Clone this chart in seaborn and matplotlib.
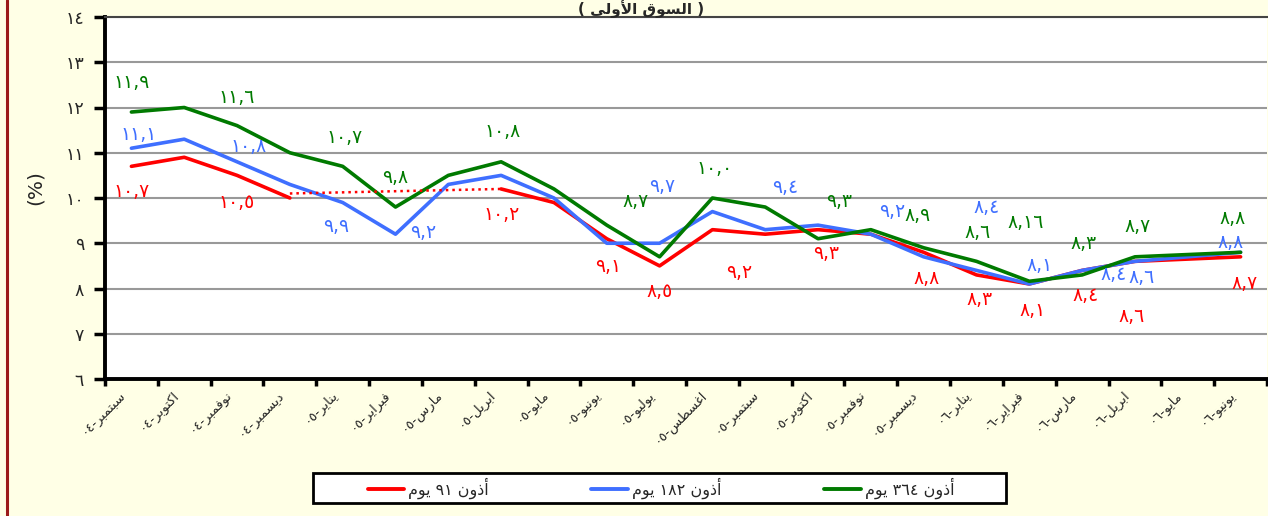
import re
import numpy as np
import pandas as pd
import seaborn as sns
import matplotlib
matplotlib.use('Agg')
import matplotlib.pyplot as plt
import matplotlib.transforms as mtrans
from matplotlib.lines import Line2D
from matplotlib.patches import Rectangle

# ---- data ----
months = ['سبتمبر', 'اكتوبر', 'نوفمبر', 'ديسمبر',
          'يناير', 'فبراير', 'مارس', 'ابريل', 'مايو', 'يونيو',
          'يوليو', 'اغسطس', 'سبتمبر', 'اكتوبر', 'نوفمبر', 'ديسمبر',
          'يناير', 'فبراير', 'مارس', 'ابريل', 'مايو', 'يونيو']
years = ['٠٤'] * 4 + ['٠٥'] * 12 + ['٠٦'] * 6

series_names = ['أذون ٩١ يوم', 'أذون ١٨٢ يوم', 'أذون ٣٦٤ يوم']
rate_91 = [10.7, 10.9, 10.5, 10.0, np.nan, np.nan, np.nan, 10.2, 9.9, 9.1, 8.5,
           9.3, 9.2, 9.3, 9.2, 8.8, 8.3, 8.1, 8.4, 8.6, 8.65, 8.7]
rate_182 = [11.1, 11.3, 10.8, 10.3, 9.9, 9.2, 10.3, 10.5, 10.0, 9.0, 9.0,
            9.7, 9.3, 9.4, 9.2, 8.7, 8.4, 8.1, 8.4, 8.6, 8.7, 8.8]
rate_364 = [11.9, 12.0, 11.6, 11.0, 10.7, 9.8, 10.5, 10.8, 10.2, 9.4, 8.7,
            10.0, 9.8, 9.1, 9.3, 8.9, 8.6, 8.16, 8.3, 8.7, 8.75, 8.8]

# dotted link drawn over the missing 91-day months
gap_idx = [3, 7]
gap_vals = [10.1, 10.2]

title = '( السوق الأولى )'
y_ticks = [6, 7, 8, 9, 10, 11, 12, 13, 14]

# ---- minimal arabic shaping (matplotlib has no complex text layout) ----
FORMS = {
    'ا': ('\uFE8D', '\uFE8E', None, None),
    'أ': ('\uFE83', '\uFE84', None, None),
    'ب': ('\uFE8F', '\uFE90', '\uFE91', '\uFE92'),
    'ت': ('\uFE95', '\uFE96', '\uFE97', '\uFE98'),
    'د': ('\uFEA9', '\uFEAA', None, None),
    'ذ': ('\uFEAB', '\uFEAC', None, None),
    'ر': ('\uFEAD', '\uFEAE', None, None),
    'س': ('\uFEB1', '\uFEB2', '\uFEB3', '\uFEB4'),
    'ط': ('\uFEC1', '\uFEC2', '\uFEC3', '\uFEC4'),
    'غ': ('\uFECD', '\uFECE', '\uFECF', '\uFED0'),
    'ف': ('\uFED1', '\uFED2', '\uFED3', '\uFED4'),
    'ق': ('\uFED5', '\uFED6', '\uFED7', '\uFED8'),
    'ك': ('\uFED9', '\uFEDA', '\uFEDB', '\uFEDC'),
    'ل': ('\uFEDD', '\uFEDE', '\uFEDF', '\uFEE0'),
    'م': ('\uFEE1', '\uFEE2', '\uFEE3', '\uFEE4'),
    'ن': ('\uFEE5', '\uFEE6', '\uFEE7', '\uFEE8'),
    'و': ('\uFEED', '\uFEEE', None, None),
    'ى': ('\uFEEF', '\uFEF0', None, None),
    'ي': ('\uFEF1', '\uFEF2', '\uFEF3', '\uFEF4'),
}
LAM_ALEF = {'ا': ('\uFEFB', '\uFEFC'), 'أ': ('\uFEF7', '\uFEF8')}
MIRROR = {'(': ')', ')': '('}


def is_letter(c):
    return isinstance(c, tuple) or c in FORMS


def links_next(c):
    return not isinstance(c, tuple) and c in FORMS and FORMS[c][2] is not None


def shape(text):
    chars, i = [], 0
    while i < len(text):
        if text[i] == 'ل' and i + 1 < len(text) and text[i + 1] in LAM_ALEF:
            chars.append(('LA', text[i + 1]))
            i += 2
        else:
            chars.append(text[i])
            i += 1
    out = []
    for k, c in enumerate(chars):
        prev = chars[k - 1] if k > 0 else None
        nxt = chars[k + 1] if k + 1 < len(chars) else None
        jp = prev is not None and links_next(prev)
        if isinstance(c, tuple):
            out.append(LAM_ALEF[c[1]][1 if jp else 0])
            continue
        if c not in FORMS:
            out.append(c)
            continue
        jn = links_next(c) and nxt is not None and is_letter(nxt)
        f = FORMS[c]
        out.append(f[3] if (jp and jn) else f[1] if jp else f[2] if jn else f[0])
    return ''.join(out)


def rtl(text):
    runs = re.findall(r'[0-9\u0660-\u0669]+|.', shape(text))
    return ''.join(MIRROR.get(r, r) for r in reversed(runs))


DIGITS = str.maketrans('0123456789.', '٠١٢٣٤٥٦٧٨٩,')


def ar_num(v):
    s = f'{v:.2f}'.rstrip('0')
    if s.endswith('.'):
        s += '0'
    return s.translate(DIGITS)


# ---- long table for seaborn ----
rows = []
for name, vals in zip(series_names, [rate_91, rate_182, rate_364]):
    seg = 0
    for i, v in enumerate(vals):
        if np.isnan(v):
            seg = 1
            continue
        rows.append({'idx': i, 'rate': v, 'series': name, 'seg': seg})
df = pd.DataFrame(rows)

colors = ['#FF0000', '#3F6FFF', '#007A00']
palette = dict(zip(series_names, colors))

sns.set_style('white')
plt.rcParams['font.family'] = ['DejaVu Sans']

BG = '#FFFFE6'
fig = plt.figure(figsize=(12.68, 5.16), dpi=100, facecolor=BG)
ax = fig.add_axes([105 / 1268, 137 / 516, 1162 / 1268, 362 / 516])
ax.set_facecolor('white')

sns.lineplot(data=df, x='idx', y='rate', hue='series', units='seg',
             estimator=None, palette=palette, linewidth=2.6, sort=False,
             legend=False, ax=ax)
ax.plot(gap_idx, gap_vals, color='#FF0000', linestyle=(0, (1, 1.6)), linewidth=1.8)

# data labels: (index, dx, dy) in pixels
label_pos = {
    series_names[0]: [(0, 0, -25), (2, 0, -27), (7, 0, -26), (9, 1, -28),
                      (10, 0, -26), (12, -26, -38), (13, 8, -24), (15, 3, -26),
                      (16, 3, -25), (17, 3, -27), (18, 3, -25), (19, -3, -55),
                      (21, 4, -27)],
    series_names[1]: [(0, 7, 14), (2, 12, 15), (4, -7, -24), (5, 28, 2),
                      (11, -50, 25), (13, -33, 38), (14, 21, 23), (16, 10, 63),
                      (17, 10, 18), (18, 31, -4), (19, 7, -16), (21, -10, 10)],
    series_names[2]: [(0, 0, 30), (2, 0, 28), (4, 2, 29), (5, 0, 30), (7, 1, 30),
                      (10, -24, 55), (11, 2, 30), (14, -32, 28), (15, -6, 32),
                      (16, 1, 29), (17, -4, 59), (18, 1, 31), (19, 3, 30),
                      (21, -8, 34)],
}
for name, vals in zip(series_names, [rate_91, rate_182, rate_364]):
    for i, dx, dy in label_pos[name]:
        ax.annotate(ar_num(vals[i]), (i, vals[i]), xytext=(dx, dy),
                    textcoords='offset pixels', ha='center', va='center',
                    color=palette[name], fontsize=13.5, zorder=5,
                    annotation_clip=False)

# axes styling
ax.set_xlim(-0.5, len(months) - 0.5)
ax.set_ylim(6, 14)
ax.set_yticks(y_ticks)
ax.set_yticklabels([str(v).translate(DIGITS) for v in y_ticks], fontsize=12.5)
ax.yaxis.grid(True, color='#999999', linewidth=1.5)
ax.xaxis.grid(False)
ax.set_axisbelow(True)
ax.set_xlabel('')
ax.set_ylabel('')

ax.set_xticks(range(len(months)))
ax.set_xticklabels([rtl(m + '-' + y) for m, y in zip(months, years)],
                   rotation=45, ha='right', va='center',
                   rotation_mode='anchor', fontsize=9.5)
ax.set_xticks(np.arange(-0.5, len(months), 1.0), minor=True)
ax.tick_params(axis='x', which='major', length=0, pad=10)
ax.tick_params(axis='x', which='minor', length=5, width=2.5, color='black',
               direction='out', bottom=True)
ax.tick_params(axis='y', length=8, width=2.5, color='black', direction='out',
               pad=7, left=True)
shift = mtrans.ScaledTranslation(-8 / 100, 0, fig.dpi_scale_trans)
for lab in ax.get_xticklabels():
    lab.set_transform(lab.get_transform() + shift)

for side in ['left', 'bottom']:
    ax.spines[side].set_color('black')
    ax.spines[side].set_linewidth(2.8)
ax.spines['top'].set_color('#444444')
ax.spines['top'].set_linewidth(1.5)
ax.spines['right'].set_visible(False)

# texts around the plot
fig.text(35 / 1268, 1 - 188 / 516, '(%)', rotation=90, fontsize=14.5,
         ha='center', va='center')
fig.text(641 / 1268, 1.0, rtl(title), fontsize=11, fontweight='bold',
         ha='center', va='top')

# legend with a separate box
fig.add_artist(Rectangle((313 / 1268, 1 - 503 / 516), 693 / 1268, 30 / 516,
                         transform=fig.transFigure, facecolor='white',
                         edgecolor='black', linewidth=2, zorder=1))
handles = [Line2D([], [], color=c, linewidth=2.8) for c in colors]
leg = fig.legend(handles, [rtl(n) for n in series_names], loc='center',
                 bbox_to_anchor=(661 / 1268, 1 - 488 / 516), ncol=3,
                 frameon=False, handlelength=2.3, handletextpad=0.25,
                 columnspacing=6.4, fontsize=11.5)
leg.set_zorder(2)

# chart-area border on the left
fig.add_artist(Line2D([6.5 / 1268] * 2, [0, 1], transform=fig.transFigure,
                      color='#9B1B1B', linewidth=2.2))

fig.savefig('out.png', dpi=100, facecolor=BG)
